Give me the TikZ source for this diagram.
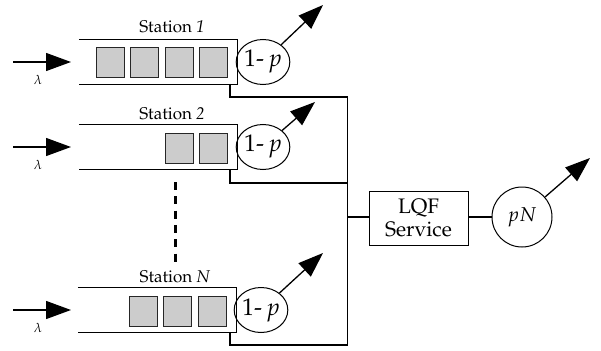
\documentclass[tikz,border=0pt]{standalone}
\usepackage[T1]{fontenc}
\usepackage{mathpazo}
\usetikzlibrary{arrows.meta,shapes.geometric}
\definecolor{jobgray}{RGB}{204,204,204}
\tikzset{
  line/.style={line width=1.1pt,draw=black},
  queue/.style={minimum width=158pt,minimum height=44pt,inner sep=0pt},
  job/.style={draw=black!85,line width=1pt,fill=jobgray,minimum width=28pt,minimum height=30pt,inner sep=0pt},
  srv/.style={ellipse,draw,line width=1pt,minimum width=50pt,minimum height=45pt,inner sep=0pt,font=\fontsize{24}{26}\selectfont},
  big/.style={-{Triangle[length=25pt,width=18pt]},line width=1.3pt},
  lbl/.style={font=\fontsize{17}{19}\selectfont,inner sep=0pt},
  lam/.style={font=\fontsize{13}{14}\selectfont,inner sep=0pt},
}
\begin{document}
\begin{tikzpicture}[x=1pt,y=-1pt]
\useasboundingbox (0,0) rectangle (601,350);
% queues
\node[queue] (q1) at (158,62) {};
\node[queue] (q2) at (158,147) {};
\node[queue] (qn) at (157,310) {};
\foreach \q in {q1,q2,qn}{
  \draw[line] (\q.north west) -- (\q.north east) -- (\q.south east) -- (\q.south west);
}
\node[lbl] (l1) at (172,27) {Station \textit{1}};
\node[lbl] (l2) at (172,114) {Station \textit{2}};
\node[lbl] (ln) at (175,277) {Station \textit{N}};
% jobs
\node[job] (j11) at (110,63) {};
\node[job] (j12) at (144.5,63) {};
\node[job] (j13) at (179,63) {};
\node[job] (j14) at (213.5,63) {};
\node[job] (j21) at (179,148) {};
\node[job] (j22) at (213.5,148) {};
\node[job] (jn1) at (143,311) {};
\node[job] (jn2) at (177.5,311) {};
\node[job] (jn3) at (212.5,311) {};
% servers
\node[srv] (s1) at (263,62) {1-\,$p$};
\node[srv] (s2) at (263,147) {1-\,$p$};
\node[srv] (sn) at (261,310) {1-\,$p$};
% inputs
\coordinate (i1) at (13,62);
\coordinate (i2) at (13,147);
\coordinate (in) at (13,310);
\coordinate (e1) at (71,62);
\coordinate (e2) at (71,147);
\coordinate (en) at (71,310);
\draw[big] (i1) -- (e1);
\draw[big] (i2) -- (e2);
\draw[big] (in) -- (en);
\node[lam] (lam1) at (38,80) {$\lambda$};
\node[lam] (lam2) at (38,165) {$\lambda$};
\node[lam] (lamn) at (38,328) {$\lambda$};
% outputs
\coordinate (o1) at (323,5);
\coordinate (o2) at (315,102);
\coordinate (on) at (323,253);
\draw[big] (s1) -- (o1);
\draw[big] (s2) -- (o2);
\draw[big] (sn) -- (on);
% dashed
\coordinate (d1) at (175.5,182);
\coordinate (d2) at (175.5,262);
\draw[line width=3pt,dash pattern=on 8pt off 6.3pt] (d1) -- (d2);
% connectors to bus
\coordinate (c1) at (230,84);
\coordinate (c2) at (230,169);
\coordinate (cn) at (230,332);
\coordinate (b1) at (347.5,97);
\coordinate (b2) at (347.5,183);
\coordinate (bn) at (347.5,345);
\coordinate (bm) at (347.5,217);
\draw[line] (c1) |- (b1);
\draw[line] (c2) |- (b2);
\draw[line] (cn) |- (bn);
\draw[line] (b1) -- (bn);
% LQF
\node[draw,line width=1pt,minimum width=99pt,minimum height=54pt,align=center,inner sep=0pt,
  font=\fontsize{21}{23}\selectfont] (lqf) at (418.5,218) {LQF\\Service};
\node[circle,draw,line width=1pt,minimum size=60pt,inner sep=0pt,font=\fontsize{20}{22}\selectfont] (pn) at (522,217) {$pN$};
\draw[line] (bm) -- (lqf.west |- bm);
\draw[line] (lqf.east |- pn) -- (pn);
\coordinate (op) at (590,158);
\draw[big] (pn) -- (op);
\end{tikzpicture}
\end{document}
